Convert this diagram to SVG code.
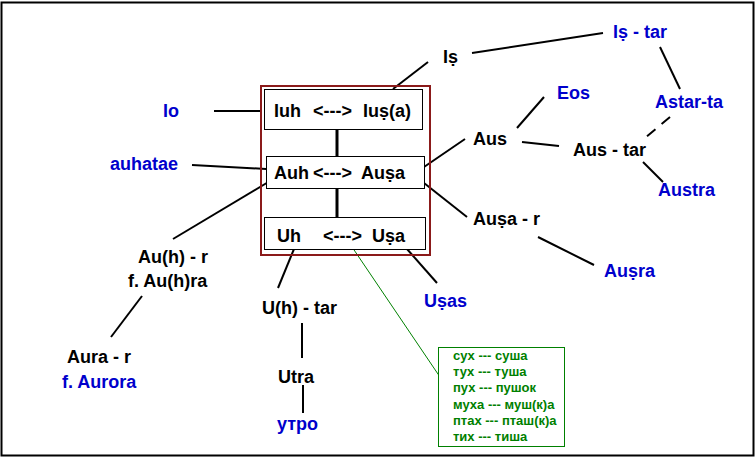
<svg xmlns="http://www.w3.org/2000/svg" width="756" height="459" viewBox="0 0 756 459">
<style>
text{font-family:"Liberation Sans","DejaVu Sans",Arial,sans-serif;font-weight:bold;font-size:18px;fill:#000}
.b{fill:#0000cc}
.g{fill:#008000;font-size:13px}
.ln{stroke:#000;stroke-width:2;fill:none}
.box{fill:#fff;stroke:#000;stroke-width:1}
</style>
<rect x="1.5" y="2.5" width="752" height="453" fill="#fff" stroke="#000" stroke-width="2"/>
<g id="connectors">
<line class="ln" x1="214" y1="111" x2="262" y2="111"/>
<line class="ln" x1="192" y1="165" x2="266" y2="169"/>
<line class="ln" x1="270" y1="181" x2="173" y2="239"/>
<line class="ln" x1="142" y1="296" x2="111" y2="337"/>
<line class="ln" x1="294" y1="249" x2="278" y2="288"/>
<line class="ln" x1="302" y1="323" x2="302" y2="358"/>
<line class="ln" x1="303" y1="385" x2="303" y2="413"/>
<line class="ln" x1="407" y1="249" x2="437" y2="283"/>
<line x1="348" y1="241" x2="440" y2="377" stroke="#008000" stroke-width="1"/>
<line class="ln" x1="393" y1="89" x2="428" y2="62"/>
<line class="ln" x1="472" y1="53" x2="603" y2="33"/>
<line class="ln" x1="660" y1="47" x2="680" y2="89"/>
<line class="ln" x1="544" y1="97" x2="517" y2="128"/>
<line class="ln" x1="670" y1="117" x2="645" y2="138" stroke-dasharray="11,8"/>
<line class="ln" x1="424" y1="167" x2="465" y2="139"/>
<line class="ln" x1="522" y1="142" x2="559" y2="146"/>
<line class="ln" x1="643" y1="162" x2="663" y2="182"/>
<line class="ln" x1="424" y1="183" x2="467" y2="217"/>
<line class="ln" x1="538" y1="237" x2="594" y2="265"/>
<line x1="337" y1="129" x2="337" y2="156" stroke="#000" stroke-width="3"/>
<line x1="337" y1="188" x2="337" y2="217" stroke="#000" stroke-width="3"/>
</g>
<g id="frame">
<rect x="261" y="86" width="169" height="169" fill="none" stroke="#8b1a1a" stroke-width="2"/>
</g>
<g id="box-iuh">
<rect class="box" x="264.5" y="89.5" width="158" height="40"/>
<text x="274" y="117">Iuh</text><text x="313" y="117">&lt;---&gt;</text><text x="363" y="117">Iuṣ(a)</text>
</g>
<g id="box-auh">
<rect class="box" x="266.5" y="156.5" width="158" height="32"/>
<text x="274" y="179">Auh</text><text x="313" y="179">&lt;---&gt;</text><text x="361" y="179">Auṣa</text>
</g>
<g id="box-uh">
<rect class="box" x="264.5" y="217.5" width="161" height="32"/>
<text x="277" y="242">Uh</text><text x="323" y="242">&lt;---&gt;</text><text x="372" y="242">Uṣa</text>
</g>
<g id="io"><text class="b" x="163" y="117">Io</text></g>
<g id="auhatae"><text class="b" x="110" y="170">auhatae</text></g>
<g id="auhr"><text x="138" y="263">Au(h) - r</text><text x="128" y="287">f. Au(h)ra</text></g>
<g id="aurar"><text x="67" y="363">Aura - r</text><text class="b" x="62" y="388">f. Aurora</text></g>
<g id="uhtar"><text x="262" y="314">U(h) - tar</text></g>
<g id="utra"><text x="278" y="383">Utra</text></g>
<g id="utro"><text class="b" x="277" y="430">утро</text></g>
<g id="usas"><text class="b" x="424" y="307">Uṣas</text></g>
<g id="is"><text x="443" y="63">Iṣ</text></g>
<g id="istar"><text class="b" x="613" y="38">Iṣ - tar</text></g>
<g id="eos"><text class="b" x="557" y="99">Eos</text></g>
<g id="astarta"><text class="b" x="655" y="108">Astar-ta</text></g>
<g id="aus"><text x="473" y="145">Aus</text></g>
<g id="austar"><text x="573" y="156">Aus - tar</text></g>
<g id="austra"><text class="b" x="658" y="196">Austra</text></g>
<g id="ausar"><text x="473" y="225">Auṣa - r</text></g>
<g id="ausra"><text class="b" x="604" y="277">Auṣra</text></g>
<g id="examples">
<rect x="438.5" y="347.5" width="126" height="99" fill="#fff" stroke="#008000" stroke-width="1"/>
<text class="g" x="453" y="360">сух --- суша</text>
<text class="g" x="453" y="376">тух --- туша</text>
<text class="g" x="453" y="392">пух --- пушок</text>
<text class="g" x="453" y="409">муха --- муш(к)а</text>
<text class="g" x="453" y="425">птах --- пташ(к)а</text>
<text class="g" x="453" y="441">тих --- тиша</text>
</g>
</svg>
